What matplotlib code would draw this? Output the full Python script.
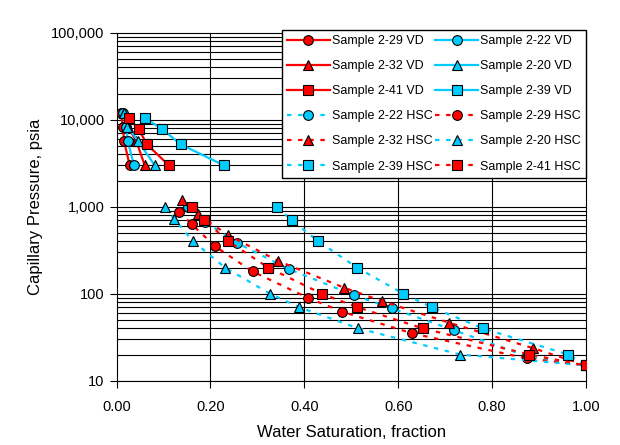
import matplotlib.pyplot as plt
from matplotlib.ticker import FixedLocator, FuncFormatter, NullFormatter
import numpy as np

plt.rcParams['font.family'] = ['Liberation Sans', 'DejaVu Sans']

red = "#FF0000"
cyan = "#00CCFF"

# vertical drainage (VD) data
pc_vd = [11800, 8300, 5700, 3000]
pc_vd_sq = [10500, 7800, 5200, 3000]
sw_29_vd = [0.009, 0.014, 0.016, 0.028]
sw_22_vd = [0.014, 0.021, 0.024, 0.037]
sw_32_vd = [0.017, 0.024, 0.042, 0.060]
sw_20_vd = [0.016, 0.023, 0.046, 0.081]
sw_41_vd = [0.026, 0.047, 0.065, 0.111]
sw_39_vd = [0.060, 0.097, 0.137, 0.228]

# high speed centrifuge (HSC) data
sw_22_hsc = [0.153, 0.189, 0.256, 0.367, 0.506, 0.586, 0.719, 0.875, 1.0]
pc_22_hsc = [980, 670, 385, 192, 96, 68, 38, 19, 15]
sw_29_hsc = [0.134, 0.160, 0.210, 0.290, 0.407, 0.481, 0.630, 0.875, 1.0]
pc_29_hsc = [880, 630, 350, 180, 90, 62, 35, 18, 15]
sw_32_hsc = [0.140, 0.173, 0.238, 0.345, 0.485, 0.566, 0.708, 0.888, 1.0]
pc_32_hsc = [1190, 820, 470, 237, 117, 82, 46.5, 23.6, 15]
sw_20_hsc = [0.103, 0.123, 0.162, 0.231, 0.327, 0.389, 0.515, 0.732, 1.0]
pc_20_hsc = [1000, 720, 405, 200, 100, 70, 40, 20, 15]
sw_39_hsc = [0.342, 0.373, 0.430, 0.512, 0.611, 0.671, 0.780, 0.962, 1.0]
pc_39_hsc = [1000, 700, 400, 200, 100, 70, 40, 20, 15]
sw_41_hsc = [0.161, 0.187, 0.238, 0.323, 0.437, 0.513, 0.652, 0.879, 0.999]
pc_41_hsc = [1000, 700, 400, 200, 100, 70, 40, 20, 15]

fig = plt.figure(figsize=(6.2, 4.45), dpi=100)
ax = fig.add_axes([116.5/620, 1-380.7/445, (586-116.5)/620, (380.7-32.7)/445])

ax.set_yscale('log')
ax.set_xlim(0, 1)
ax.set_ylim(10, 100000)

# grid like excel: every minor line on log axis
for dec in [10, 100, 1000, 10000]:
    for k in range(1, 10):
        ax.axhline(dec*k, color='black', lw=0.8, zorder=1)
for xv in [0.2, 0.4, 0.6, 0.8]:
    ax.axvline(xv, color='black', lw=0.8, zorder=1)

solid = dict(lw=1.6, ms=7, mec='black', mew=0.8, zorder=3)
dash = dict(lw=1.6, ms=7, mec='black', mew=0.8, zorder=3, ls=(0, (2, 3)))

h = {}
h['29vd'], = ax.plot(sw_29_vd, pc_vd, color=red, mfc=red, marker='o', label='Sample 2-29 VD', **solid)
h['22vd'], = ax.plot(sw_22_vd, pc_vd, color=cyan, mfc=cyan, marker='o', label='Sample 2-22 VD', **solid)
h['32vd'], = ax.plot(sw_32_vd, pc_vd, color=red, mfc=red, marker='^', label='Sample 2-32 VD', **solid)
h['20vd'], = ax.plot(sw_20_vd, pc_vd, color=cyan, mfc=cyan, marker='^', label='Sample 2-20 VD', **solid)
h['41vd'], = ax.plot(sw_41_vd, pc_vd_sq, color=red, mfc=red, marker='s', label='Sample 2-41 VD', **solid)
h['39vd'], = ax.plot(sw_39_vd, pc_vd_sq, color=cyan, mfc=cyan, marker='s', label='Sample 2-39 VD', **solid)
h['22h'], = ax.plot(sw_22_hsc, pc_22_hsc, color=cyan, mfc=cyan, marker='o', label='Sample 2-22 HSC', **dash)
h['29h'], = ax.plot(sw_29_hsc, pc_29_hsc, color=red, mfc=red, marker='o', label='Sample 2-29 HSC', **dash)
h['32h'], = ax.plot(sw_32_hsc, pc_32_hsc, color=red, mfc=red, marker='^', label='Sample 2-32 HSC', **dash)
h['20h'], = ax.plot(sw_20_hsc, pc_20_hsc, color=cyan, mfc=cyan, marker='^', label='Sample 2-20 HSC', **dash)
h['39h'], = ax.plot(sw_39_hsc, pc_39_hsc, color=cyan, mfc=cyan, marker='s', label='Sample 2-39 HSC', **dash)
h['41h'], = ax.plot(sw_41_hsc, pc_41_hsc, color=red, mfc=red, marker='s', label='Sample 2-41 HSC', **dash)

order = ['29vd', '32vd', '41vd', '22h', '32h', '39h',
         '22vd', '20vd', '39vd', '29h', '20h', '41h']
handles = [h[k] for k in order]
leg = ax.legend(handles, [x.get_label() for x in handles], ncol=2, loc='upper right',
                bbox_to_anchor=(1.0, 1.008), borderaxespad=0, fontsize=9,
                fancybox=False, framealpha=1, edgecolor='black',
                handlelength=3.4, handletextpad=0.2, columnspacing=0.2,
                labelspacing=1.05, borderpad=0.4)
leg.get_frame().set_linewidth(1.0)
leg.set_zorder(5)

ax.set_xticks(np.arange(0, 1.01, 0.2))
ax.xaxis.set_major_formatter(FuncFormatter(lambda v, p: f"{v:.2f}"))
ax.yaxis.set_major_locator(FixedLocator([10, 100, 1000, 10000, 100000]))
ax.yaxis.set_major_formatter(FuncFormatter(lambda v, p: f"{int(round(v)):,}"))
ax.yaxis.set_minor_formatter(NullFormatter())
ax.tick_params(axis='y', which='minor', length=0)
ax.tick_params(axis='both', which='major', labelsize=10.5, length=5, width=0.8, direction='out')
ax.tick_params(axis='x', which='major', pad=9)

ax.set_xlabel('Water Saturation, fraction', fontsize=12, labelpad=8)
ax.set_ylabel('Capillary Pressure, psia', fontsize=12, labelpad=6)

for s in ax.spines.values():
    s.set_linewidth(0.8)

fig.savefig('out.png', dpi=100)
